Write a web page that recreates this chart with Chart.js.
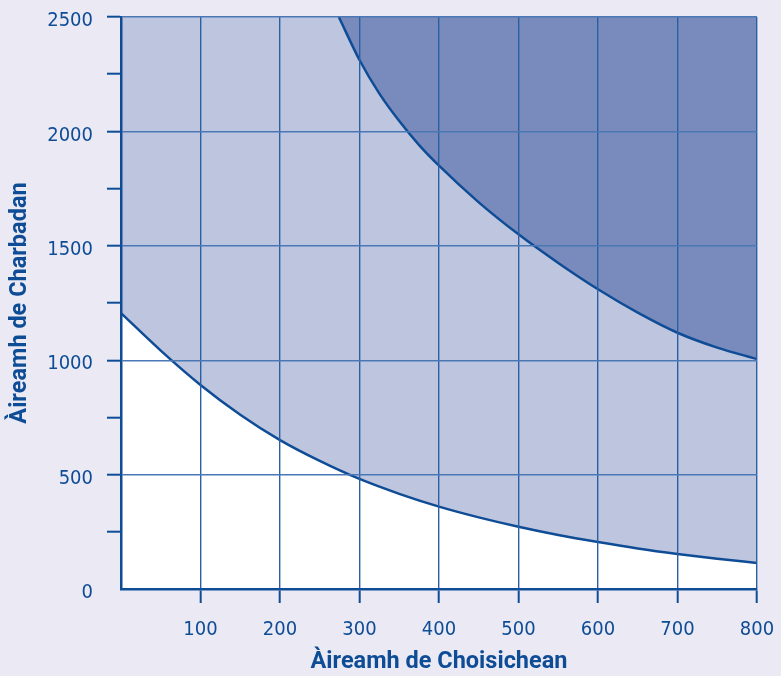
<!DOCTYPE html>
<html lang="gd">
<head>
  <meta charset="UTF-8" />
  <title>Àireamh de Charbadan / Choisichean</title>
  <style>
    body { margin: 0; background: #ebeaf4; }
    #wrap { width: 781px; height: 676px; }
  </style>
</head>
<body>

<div id="wrap"><canvas id="chart" width="781" height="676"></canvas></div>

<script src="https://cdn.jsdelivr.net/npm/chart.js@4.4.3"></script>

<script>
  // lower boundary (white below, light band above)
  const lowerX = [0, 50, 100, 150, 200, 250, 300, 350, 400, 450, 500, 550, 600, 650, 700, 750, 800];
  const lowerY = [1206, 1042, 892, 762, 651, 560, 481, 416, 360, 313, 272, 236, 205, 177, 153, 132, 114];

  // upper boundary (dark band above)
  const upperX = [274, 300, 325, 350, 375, 400, 450, 500, 550, 600, 650, 700, 750, 800];
  const upperY = [2500, 2312, 2165, 2045, 1940, 1850, 1690, 1550, 1425, 1310, 1208, 1120, 1055, 1005];

  const xTitle = 'Àireamh de Choisichean';
  const yTitle = 'Àireamh de Charbadan';

  const navy = '#0f4c96';
  const gridBlue = '#2a5fa6';

  const toPts = (xs, ys) => xs.map((x, i) => ({ x: x, y: ys[i] }));

  // white plot background under the fills
  const plotBg = {
    id: 'plotBg',
    beforeDatasetsDraw(chart) {
      const a = chart.chartArea;
      const ctx = chart.ctx;
      ctx.save();
      ctx.fillStyle = '#ffffff';
      ctx.fillRect(a.left, a.top, a.right - a.left, a.bottom - a.top);
      ctx.restore();
    }
  };

  new Chart(document.getElementById('chart').getContext('2d'), {
    type: 'line',
    data: {
      datasets: [{
        data: toPts(lowerX, lowerY),
        borderColor: navy,
        borderWidth: 2.5,
        pointRadius: 0,
        cubicInterpolationMode: 'monotone',
        fill: 'end',
        backgroundColor: '#bec6df',
        order: 1
      }, {
        data: toPts(upperX, upperY),
        borderColor: navy,
        borderWidth: 2.5,
        pointRadius: 0,
        cubicInterpolationMode: 'monotone',
        fill: 'end',
        backgroundColor: '#798bbd',
        order: 0
      }]
    },
    options: {
      responsive: false,
      animation: false,
      layout: { padding: { left: 0, top: 17, right: 24, bottom: 0 } },
      plugins: { legend: { display: false }, tooltip: { enabled: false } },
      scales: {
        x: {
          type: 'linear',
          min: 0,
          max: 800,
          afterFit: s => { s.height = 87; s.paddingLeft = 0; s.paddingRight = 0; },
          ticks: {
            stepSize: 100,
            padding: 15,
            color: navy,
            font: { family: 'DejaVu Sans Condensed', size: 20 },
            callback: v => v === 0 ? '' : v
          },
          grid: {
            z: 1,
            color: ctx => ctx.tick && ctx.tick.value === 0 ? 'transparent' : gridBlue,
            lineWidth: 1.4,
            tickLength: 14,
            tickWidth: 2,
            tickColor: ctx => ctx.tick && ctx.tick.value === 0 ? 'transparent' : navy
          },
          border: { z: 2, color: navy, width: 2.5 },
          title: {
            display: true,
            text: xTitle,
            color: navy,
            padding: { top: 0, bottom: 0 },
            font: { family: 'Roboto', size: 23.5, weight: 'bold' }
          }
        },
        y: {
          min: 0,
          max: 2500,
          afterFit: s => { s.width = 121; s.paddingTop = 0; s.paddingBottom = 0; },
          ticks: {
            stepSize: 250,
            padding: 14,
            labelOffset: 4,
            color: navy,
            font: { family: 'DejaVu Sans Condensed', size: 20 },
            callback: v => v % 500 === 0 ? v : ''
          },
          grid: {
            z: 1,
            color: ctx => {
              const v = ctx.tick ? ctx.tick.value : 0;
              return (v % 500 === 0 && v !== 0) ? '#4a78b5' : 'transparent';
            },
            lineWidth: 1.4,
            tickLength: 14,
            tickWidth: 2,
            tickColor: ctx => ctx.tick && ctx.tick.value === 0 ? 'transparent' : navy
          },
          border: { z: 2, color: navy, width: 2.5 },
          title: {
            display: true,
            text: yTitle,
            color: navy,
            padding: { top: 6, bottom: 0 },
            font: { family: 'Roboto', size: 23.5, weight: 'bold' }
          }
        }
      }
    },
    plugins: [plotBg]
  });
</script>
</body>
</html>
